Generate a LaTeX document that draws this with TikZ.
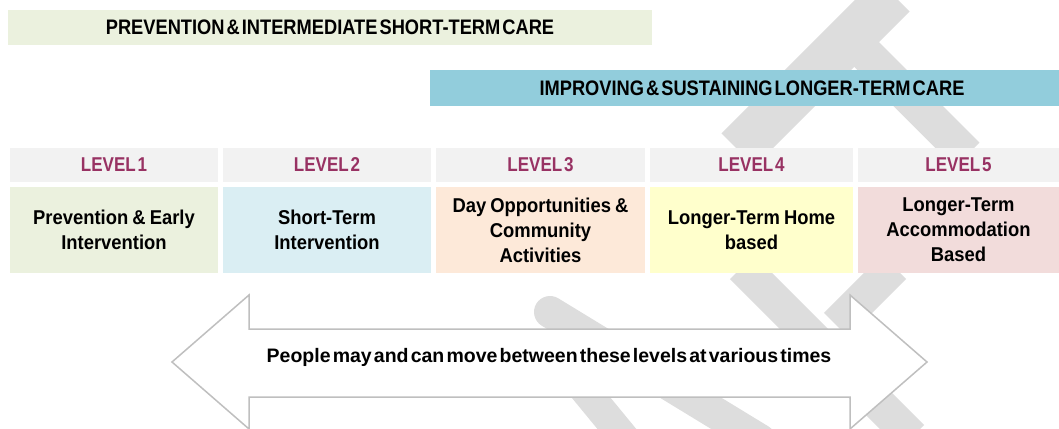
\documentclass[tikz,border=0pt]{standalone}
\usepackage{fontspec}
\setmainfont{Liberation Sans}
\newfontfamily\bannerfont[FakeStretch=0.87,WordSpace=0.4]{Liberation Sans}
\newfontfamily\hdrfont[FakeStretch=0.85,WordSpace=0.4]{Liberation Sans}
\newfontfamily\cellfont[FakeStretch=0.92,WordSpace=0.8]{Liberation Sans}
\newfontfamily\arrowfont[WordSpace=0.4]{Liberation Sans}
\definecolor{bannergreen}{HTML}{EBF1DE}
\definecolor{bannerblue}{HTML}{92CDDC}
\definecolor{hdrgrey}{HTML}{F2F2F2}
\definecolor{lvlone}{HTML}{EBF1DE}
\definecolor{lvltwo}{HTML}{DAEEF3}
\definecolor{lvlthree}{HTML}{FDE9D9}
\definecolor{lvlfour}{HTML}{FFFFCC}
\definecolor{lvlfive}{HTML}{F2DCDB}
\definecolor{maroon}{HTML}{983263}
\definecolor{wmgrey}{HTML}{DDDDDD}
\definecolor{arrowgrey}{HTML}{BFBFBF}
\tikzset{
  banner/.style={inner sep=0pt, font=\bannerfont\bfseries\fontsize{21}{24}\selectfont, text=black},
  hdr/.style={fill=hdrgrey, inner sep=0pt, minimum height=34pt, font=\hdrfont\bfseries\fontsize{20}{24}\selectfont, text=maroon},
  cell/.style={inner sep=0pt, minimum height=86pt, align=center, font=\cellfont\bfseries\fontsize{20}{25}\selectfont},
  wm/.style={draw=wmgrey, line cap=butt},
  bigarrow/.style={draw=arrowgrey, fill=white, line width=1.5pt, line join=miter},
}
\begin{document}
\begin{tikzpicture}[x=1pt,y=-1pt]
\useasboundingbox (0,0) rectangle (1059,428);
\clip (0,0) rectangle (1059,428);
% watermark
\draw[wm, line width=47pt] (893,-5) -- (738,150);
\draw[wm, line width=35pt] (850,38) -- (967,155);
\draw[wm, line width=34pt] (742,267) -- (912,437);
\draw[wm, line width=34pt] (894,267) -- (836,325);
\draw[wm, line width=32pt, line cap=round] (550,312) -- (760,440);
\draw[wm, line width=30pt] (570,372) -- (630,445);
% banners
\node[banner, fill=bannergreen, minimum width=644pt, minimum height=35pt] (b1) at (330,27.5) {PREVENTION \& INTERMEDIATE SHORT-TERM CARE};
\node[banner, fill=bannerblue, minimum width=629pt, minimum height=36pt] (b2) at (744.5,88) {\hspace{15pt}IMPROVING \& SUSTAINING LONGER-TERM CARE};
% level headers
\node[hdr, minimum width=208pt] (h1) at (114,165) {LEVEL 1};
\node[hdr, minimum width=208pt] (h2) at (327,165) {LEVEL 2};
\node[hdr, minimum width=209pt] (h3) at (540.5,165) {LEVEL 3};
\node[hdr, minimum width=203pt] (h4) at (751.5,165) {LEVEL 4};
\node[hdr, minimum width=201pt] (h5) at (958.5,165) {LEVEL 5};
% level contents
\node[cell, fill=lvlone, minimum width=208pt] (c1) at (114,230) {Prevention \& Early\\Intervention};
\node[cell, fill=lvltwo, minimum width=208pt] (c2) at (327,230) {Short-Term\\Intervention};
\node[cell, fill=lvlthree, minimum width=209pt] (c3) at (540.5,230) {Day Opportunities \&\\Community\\Activities};
\node[cell, fill=lvlfour, minimum width=203pt] (c4) at (751.5,230) {Longer-Term Home\\based};
\node[cell, fill=lvlfive, minimum width=201pt] (c5) at (958.5,230) {Longer-Term\\Accommodation\\Based};
% double arrow
\draw[bigarrow] (172,362) -- (249,295) -- (249,329) -- (850,329) -- (850,295) -- (927,362)
  -- (850,429) -- (850,397) -- (249,397) -- (249,429) -- cycle;
\node[inner sep=0pt, font=\arrowfont\bfseries\fontsize{19.5}{24}\selectfont] (msg) at (549,357) {People may and can move between these levels at various times};
\end{tikzpicture}
\end{document}
